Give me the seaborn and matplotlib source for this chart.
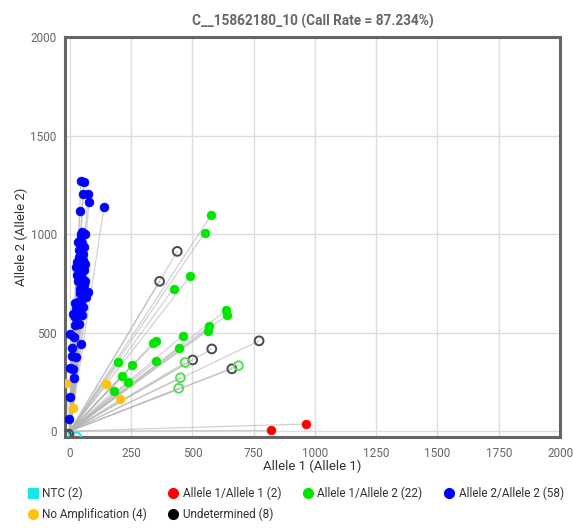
import matplotlib
matplotlib.use("Agg")
import matplotlib.pyplot as plt
from matplotlib.lines import Line2D
import seaborn as sns
import pandas as pd

# ---------------- data ----------------
TITLE = "C__15862180_10 (Call Rate = 87.234%)"
X_LABEL = "Allele 1 (Allele 1)"
Y_LABEL = "Allele 2 (Allele 2)"
X_TICKS = [0, 250, 500, 750, 1000, 1250, 1500, 1750, 2000]
Y_TICKS = [0, 500, 1000, 1500, 2000]

START_X = 0
START_Y = 0

allele22_x = [45, 57, 53, 74, 78, 41, 139, 49, 33, 49, 57, 37, 53, 61, 25, 41, 57, 49, 61, 49,
              74, 65, 53, 33, 20, 53, 29, 12, 20, 37, 0, 16, 45, 8, 25, 0, 12, 16, 0, -3,
              45, 37, 29, 45, 33, 57, 41, 45, 37, 25, 49, 41, 29, 53, 61, 20, 8, 45]
allele22_y = [1267, 1262, 1201, 1201, 1165, 1115, 1135, 1008, 962, 957, 936, 885, 870, 850, 835, 830, 819, 779, 763, 733,
              707, 682, 677, 656, 651, 631, 600, 595, 580, 545, 494, 478, 443, 382, 377, 321, 316, 270, 175, 60,
              985, 920, 860, 800, 760, 740, 700, 660, 620, 625, 590, 720, 790, 900, 1000, 540, 420, 1000]

allele12_x = [576, 550, 490, 423, 637, 643, 569, 562, 461, 447, 339, 352, 352, 196, 253, 213, 237, 179]
allele12_y = [1096, 1006, 785, 723, 612, 590, 531, 509, 485, 424, 446, 455, 356, 350, 336, 280, 251, 204]
allele12_open_x = [470, 451, 444, 688]
allele12_open_y = [348, 271, 217, 332]

allele11_x = [820, 962]
allele11_y = [3, 36]

noamp_x = [-16, 13, 149, 206]
noamp_y = [243, 119, 238, 161]

undet_x = [438, 366, 772, 661, 579, 501, -14, -5]
undet_y = [912, 760, 458, 316, 417, 361, -20, -15]

ntc_x = [-20, 27]
ntc_y = [-20, -29]

legend_labels = ["NTC (2)", "No Amplification (4)", "Allele 1/Allele 1 (2)", "Undetermined (8)",
                 "Allele 1/Allele 2 (22)", "Allele 2/Allele 2 (58)"]

# ---------------- styling ----------------
C_BLUE = "#0000ff"
C_GREEN = "#00e600"
C_GREEN_OPEN = "#55dd55"
C_RED = "#ff0000"
C_YELLOW = "#ffc20e"
C_BLACK = "#4a4a4a"
C_CYAN = "#19e6e6"

sns.set_style("white")
plt.rcParams["font.family"] = ["Roboto", "DejaVu Sans"]

fig = plt.figure(figsize=(5.73, 5.28), dpi=100)
ax = fig.add_axes([65 / 573, 91 / 528, 495 / 573, 400 / 528])

# trajectories
rows = []
groups = [(allele22_x, allele22_y), (allele12_x, allele12_y), (allele12_open_x, allele12_open_y),
          (allele11_x, allele11_y), (noamp_x, noamp_y), (undet_x, undet_y), (ntc_x, ntc_y)]
tid = 0
for gx, gy in groups:
    for x, y in zip(gx, gy):
        rows.append({"id": tid, "step": 0, "x": START_X, "y": START_Y})
        rows.append({"id": tid, "step": 1, "x": x, "y": y})
        tid += 1
traj = pd.DataFrame(rows)
sns.lineplot(data=traj, x="x", y="y", units="id", estimator=None, sort=False,
             color="#b4b4b4", lw=0.9, alpha=0.6, ax=ax, legend=False, zorder=2)

S = 40
def filled(xs, ys, c):
    sns.scatterplot(x=xs, y=ys, color=c, s=S, edgecolor=c, linewidth=0.5, ax=ax, zorder=4, legend=False)

def hollow(xs, ys, c):
    sns.scatterplot(x=xs, y=ys, s=S, facecolor="none", edgecolor=c, linewidth=1.4, ax=ax, zorder=4, legend=False)

hollow(ntc_x, ntc_y, C_CYAN)
hollow(undet_x, undet_y, C_BLACK)
hollow(allele12_open_x, allele12_open_y, C_GREEN_OPEN)
filled(allele12_x, allele12_y, C_GREEN)
filled(allele11_x, allele11_y, C_RED)
filled(noamp_x, noamp_y, C_YELLOW)
filled(allele22_x, allele22_y, C_BLUE)

ax.set_xlim(-20, 2000)
ax.set_ylim(-30, 2000)
ax.set_xticks(X_TICKS)
ax.set_yticks(Y_TICKS)
ax.set_xticklabels([str(t) for t in X_TICKS])
ax.set_yticklabels([str(t) for t in Y_TICKS])
ax.grid(True, color="#dddddd", lw=1)
ax.set_axisbelow(True)
ax.tick_params(axis="both", length=0, labelsize=8.5, labelcolor="#666666")
ax.tick_params(axis="x", pad=7)
ax.tick_params(axis="y", pad=6)
for sp in ax.spines.values():
    sp.set_color("#666666")
    sp.set_linewidth(2.2)
    sp.set_visible(True)

ax.set_xlabel(X_LABEL, fontsize=9.5, color="#333333", labelpad=0)
ax.set_ylabel(Y_LABEL, fontsize=9.5, color="#333333", labelpad=2)
ax.set_title(TITLE, fontsize=9.8, color="#666666", fontweight="bold", pad=8)

handles = [
    Line2D([], [], marker="s", ls="", color=C_CYAN, markersize=7),
    Line2D([], [], marker="o", ls="", color=C_YELLOW, markersize=7),
    Line2D([], [], marker="o", ls="", color=C_RED, markersize=7),
    Line2D([], [], marker="o", ls="", color="#000000", markersize=7),
    Line2D([], [], marker="o", ls="", color=C_GREEN, markersize=7),
    Line2D([], [], marker="o", ls="", color=C_BLUE, markersize=7),
]
leg = fig.legend(handles, legend_labels, loc="upper left", bbox_to_anchor=(28 / 573, 1 - 487 / 528),
                 ncol=4, frameon=False, fontsize=8.5, handlelength=0.8, handletextpad=0.4,
                 columnspacing=1.85, labelspacing=0.6, borderaxespad=0, borderpad=0)
for t in leg.get_texts():
    t.set_color("#333333")

fig.savefig("out.png", dpi=100)
